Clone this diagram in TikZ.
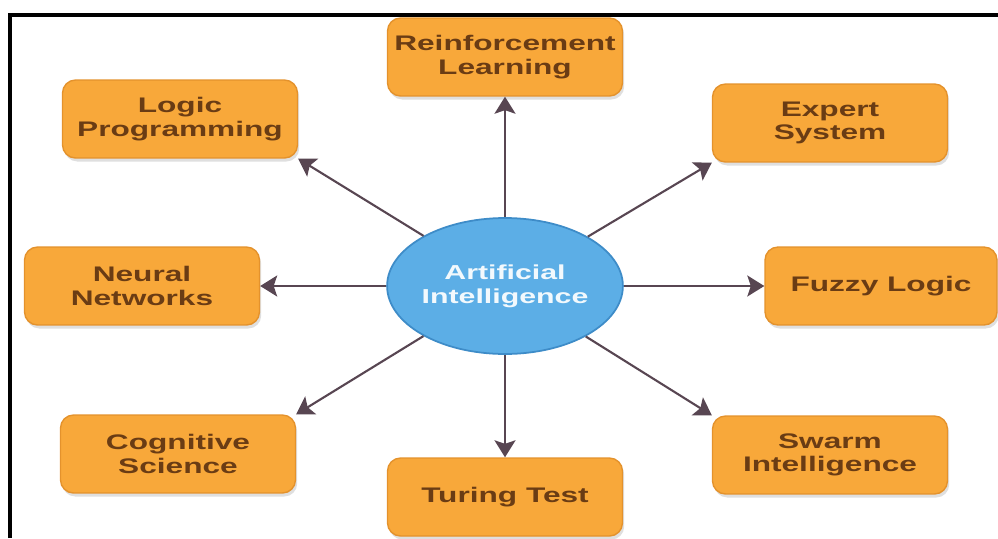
\documentclass[tikz,border=0pt]{standalone}
\usepackage{fontspec}
\usepackage{tikz}
\usetikzlibrary{arrows.meta}
\usetikzlibrary{shadows}
\usetikzlibrary{shapes.geometric}
\usetikzlibrary{positioning}

\newfontfamily\boxfont{Liberation Sans}[FakeStretch=1.5]
\definecolor{boxorange}{HTML}{F8A83A}
\definecolor{boxedge}{HTML}{E4922C}
\definecolor{boxtext}{HTML}{6A3C14}
\definecolor{aiblue}{HTML}{5CAEE6}
\definecolor{aiedge}{HTML}{3E8CC8}
\definecolor{arrowgray}{HTML}{584652}

\begin{document}
\begin{tikzpicture}[
	x=0.02cm, y=-0.02cm,
  > = {Stealth[length=3.4mm,width=4.2mm,inset=0.7mm]},
  topic/.style = {draw=boxedge, line width=0.8pt, fill=boxorange, rounded corners=0.26cm,
                  minimum width=4.7cm, minimum height=1.56cm, align=center, text=boxtext,
                  font=\boxfont\bfseries\fontsize{12}{13.5}\selectfont,
                  drop shadow={shadow xshift=1pt, shadow yshift=-2pt, opacity=0.25}},
  core/.style = {draw=aiedge, line width=1pt, fill=aiblue, ellipse, minimum width=4.52cm,
                 minimum height=2.72cm, inner sep=0pt, align=center, text=white!92!aiblue,
                 font=\boxfont\bfseries\fontsize{11.5}{13.5}\selectfont},
  link/.style = {->, draw=arrowgray, line width=1.2pt}
  ]
	\useasboundingbox (0,0) rectangle (998,538);
	\draw[line width=1.8pt] (10,538) |- (998,15);

	\node[core] (ai) at (505,286) {Artificial\\Intelligence};

	\node[topic] (reinf)  at (505,57)  {Reinforcement\\Learning};
	\node[topic] (logic)  at (180,119) {Logic\\Programming};
	\node[topic] (expert) at (830,123) {Expert\\System};
	\node[topic] (neural) at (142,286) {Neural\\Networks};
	\node[topic, minimum width=4.64cm] (fuzzy) at (881,286) {Fuzzy Logic};
	\node[topic] (cogsci) at (178,454) {Cognitive\\Science};
	\node[topic] (turing) at (505,497) {Turing Test};
	\node[topic] (swarm)  at (830,455) {Swarm\\Intelligence};

	\draw[link] (ai) -- (reinf);
	\draw[link] (ai) -- (logic.south east);
	\draw[link] (ai) -- (expert.south west);
	\draw[link] (ai) -- (neural);
	\draw[link] (ai) -- (fuzzy);
	\draw[link] (ai) -- (cogsci.north east);
	\draw[link] (ai) -- (turing);
	\draw[link] (ai) -- (swarm.north west);

\end{tikzpicture}
\end{document}
